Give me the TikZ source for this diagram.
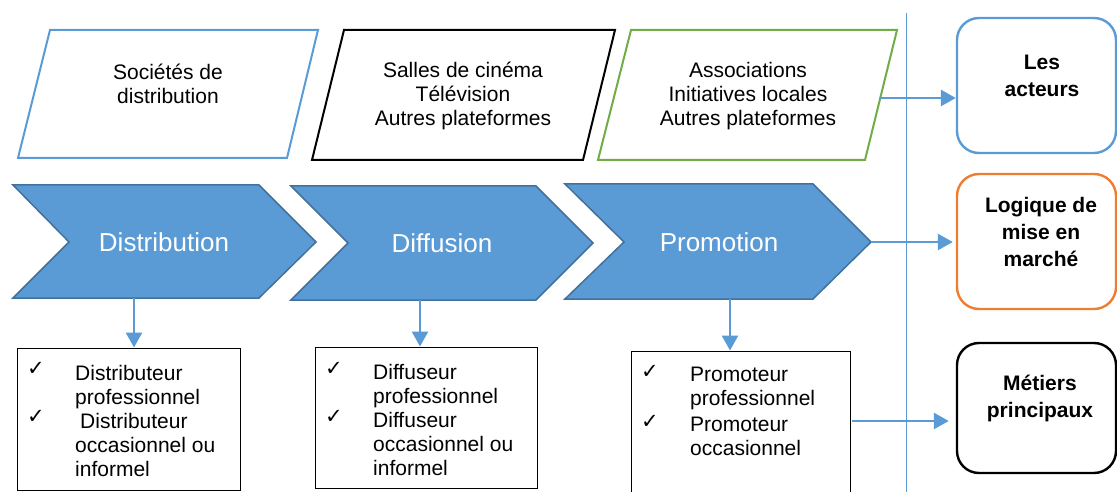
\documentclass[tikz,border=0pt]{standalone}
\usepackage{fontspec}
\setmainfont{Liberation Sans}
\newfontfamily\dejavu{DejaVu Sans}
\usetikzlibrary{arrows.meta}
\definecolor{cblue}{HTML}{5B9BD5}
\definecolor{cblueb}{HTML}{41719C}
\definecolor{corange}{HTML}{ED7D31}
\definecolor{cgreen}{HTML}{70AD47}
\begin{document}
\begin{tikzpicture}[x=1pt,y=-1pt,
  para/.style={line width=2pt,fill=white,line join=miter},
  chev/.style={fill=cblue,draw=cblueb,line width=1.5pt,line join=miter},
  ptxt/.style={font=\fontsize{21}{24}\selectfont,align=center,inner sep=0pt},
  ctxt/.style={font=\fontsize{26}{30}\selectfont,text=white,inner sep=0pt},
  btxt/.style={font=\fontsize{21}{24}\selectfont,align=left,inner sep=0pt,anchor=north west},
  chk/.style={font=\dejavu\fontsize{21}{21}\selectfont,inner sep=0pt},
  listbox/.style={draw=black,line width=1pt,rectangle,inner sep=0pt},
  rbox/.style={draw=#1,line width=2.4pt,rectangle,rounded corners=22pt,minimum width=159pt,minimum height=135pt,inner sep=0pt},
  rtxt/.style={font=\bfseries\fontsize{21}{27}\selectfont,align=center,inner sep=0pt},
  arr/.style={draw=cblue,line width=2.8pt,-{Triangle[length=15pt,width=16pt]}},
]
\useasboundingbox (0,0) rectangle (1117,492);
% separator
\draw[cblue,line width=1pt] (906,13) -- (906,495);
% parallelograms
\draw[para,draw=cblue] (50,30) -- (318,30) -- (287,158) -- (18,158) -- cycle;
\node[ptxt] (t1) at (168,84) {Sociétés de\\distribution};
\draw[para,draw=black] (344,30) -- (615,30) -- (583,160) -- (312,160) -- cycle;
\node[ptxt] (t2) at (463,96) {Salles de cinéma\\Télévision\\Autres plateformes};
\draw[para,draw=cgreen] (631,30) -- (897,30) -- (865,160) -- (598,160) -- cycle;
\node[ptxt] (t3) at (748,96) {Associations\\Initiatives locales\\Autres plateformes};
\coordinate (p3e) at (880,98);
% chevrons
\draw[chev] (13,185) -- (259,185) -- (316,242) -- (259,298) -- (13,298) -- (69,242) -- cycle;
\node[ctxt] (c1) at (164,242) {Distribution};
\draw[chev] (291,186) -- (536,186) -- (593,243) -- (536,300) -- (291,300) -- (348,243) -- cycle;
\node[ctxt] (c2) at (442,243) {Diffusion};
\draw[chev] (565,184) -- (813,184) -- (871,242) -- (813,299) -- (565,299) -- (624,242) -- cycle;
\node[ctxt] (c3) at (719,242) {Promotion};
\coordinate (c1s) at (134,298);
\coordinate (c2s) at (420,300);
\coordinate (c3s) at (730,299);
\coordinate (c3e) at (871,242);
% list boxes
\node[listbox,minimum width=223pt,minimum height=142pt] (b1) at (128.5,419) {};
\node[listbox,minimum width=222pt,minimum height=141pt] (b2) at (426,417.5) {};
\node[listbox,minimum width=219pt,minimum height=150pt] (b3) at (740.5,426) {};
\node[chk] (k11) at (36,369) {✓};
\node[btxt] (i11) at (75,365) {Distributeur\\professionnel};
\node[chk] (k12) at (36,417) {✓};
\node[btxt] (i12) at (80,413) {Distributeur};
\node[btxt] (i13) at (75,437) {occasionnel ou\\informel};
\node[chk] (k21) at (334,369) {✓};
\node[btxt] (i21) at (373,364) {Diffuseur\\professionnel};
\node[chk] (k22) at (334,417) {✓};
\node[btxt] (i22) at (373,412) {Diffuseur\\occasionnel ou\\informel};
\node[chk] (k31) at (650,372) {✓};
\node[btxt] (i31) at (690,367) {Promoteur\\professionnel};
\node[chk] (k32) at (650,422) {✓};
\node[btxt] (i32) at (690,417) {Promoteur\\occasionnel};
\coordinate (b3e) at (852,421);
% right boxes
\node[rbox=cblue] (r1) at (1036.5,85.5) {};
\node[rtxt] (r1t) at (1042,76) {Les\\acteurs};
\node[rbox=corange] (r2) at (1036.5,241.5) {};
\node[rtxt] (r2t) at (1041,232) {Logique de\\mise en\\marché};
\node[rbox=black,minimum height=130pt] (r3) at (1036.5,408) {};
\node[rtxt] (r3t) at (1040,398) {Métiers\\principaux};
% connectors
\draw[arr] (p3e) -- (p3e -| r1.west);
\draw[arr] (c3e) -- ([xshift=-3pt]c3e -| r2.west);
\draw[arr] (b3e) -- ([xshift=-7pt]b3e -| r3.west);
\draw[arr] (c1s) -- (c1s |- b1.north);
\draw[arr] (c2s) -- (c2s |- b2.north);
\draw[arr] (c3s) -- (c3s |- b3.north);
\end{tikzpicture}
\end{document}
